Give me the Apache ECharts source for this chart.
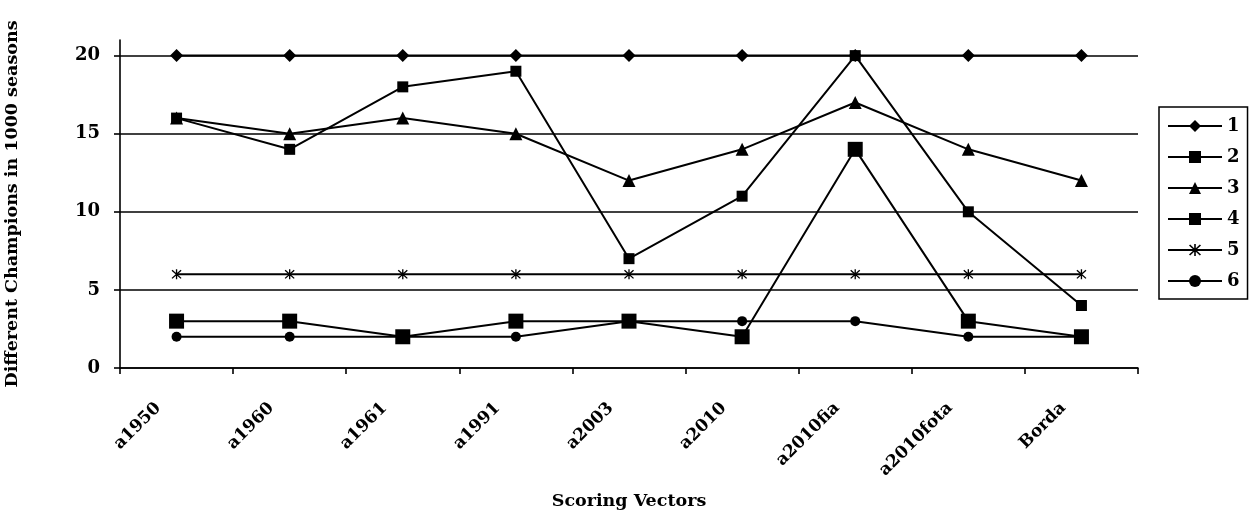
<!DOCTYPE html>
<html>
<head>
<meta charset="utf-8">
<script src="https://cdn.jsdelivr.net/npm/echarts@6/dist/echarts.min.js"></script>
<style>
html,body{margin:0;padding:0;background:#fff;}
#chart{width:1252px;height:513px;}
</style>
</head>
<body>
<div id="chart"></div>
<script>
const categories = ['a1950','a1960','a1961','a1991','a2003','a2010','a2010fia','a2010fota','Borda'];
const series1 = [20,20,20,20,20,20,20,20,20];
const series2 = [16,14,18,19,7,11,20,10,4];
const series3 = [16,15,16,15,12,14,17,14,12];
const series4 = [3,3,2,3,3,2,14,3,2];
const series5 = [6,6,6,6,6,6,6,6,6];
const series6 = [2,2,2,2,3,3,3,2,2];
const yTicks = [0,5,10,15,20];
const seriesNames = ['1','2','3','4','5','6'];

const FONT = 'DejaVu Serif';
const asterisk = 'path://M4.4 0L5.6 0L5.6 10L4.4 10Z M0.5 1.35L1.35 0.5L9.5 8.65L8.65 9.5Z M8.65 0.5L9.5 1.35L1.35 9.5L0.5 8.65Z';

function mk(name, data, symbol, size) {
  return {
    name: name, type: 'line', data: data,
    symbol: symbol, symbolSize: size, showAllSymbol: true,
    lineStyle: {color: '#000', width: 2},
    itemStyle: {color: '#000', borderWidth: 0},
    emphasis: {disabled: true},
    animation: false, z: 3
  };
}

const chart = echarts.init(document.getElementById('chart'));
chart.setOption({
  animation: false,
  backgroundColor: '#fff',
  grid: {left: 120, right: 114, top: 40, bottom: 145, containLabel: false, outerBoundsMode: 'none'},
  legend: {
    orient: 'vertical', left: 1159, top: 107,
    padding: [10, 8, 9, 8],
    itemWidth: 54, itemHeight: 15, itemGap: 13,
    borderColor: '#000', borderWidth: 1.5,
    textStyle: {fontFamily: FONT, fontWeight: 'bold', fontSize: 18, color: '#000'},
    data: seriesNames
  },
  xAxis: {
    type: 'category', data: categories, boundaryGap: true,
    name: 'Scoring Vectors', nameLocation: 'middle', nameGap: 124,
    nameTextStyle: {fontFamily: FONT, fontWeight: 'bold', fontSize: 17.5, color: '#000'},
    axisLine: {lineStyle: {color: '#000', width: 1.6}},
    axisTick: {show: true, inside: false, length: 6, lineStyle: {color: '#000', width: 1.6}},
    axisLabel: {rotate: 45, interval: 0, margin: 19, padding: [0, 26, 0, 0], fontFamily: FONT, fontWeight: 'bold', fontSize: 17, color: '#000'},
    splitLine: {show: false}
  },
  yAxis: {
    type: 'value', min: 0, max: 21, interval: 5,
    name: 'Different Champions in 1000 seasons', nameLocation: 'middle', nameGap: 99,
    nameTextStyle: {fontFamily: FONT, fontWeight: 'bold', fontSize: 17.5, color: '#000'},
    axisLine: {show: true, lineStyle: {color: '#000', width: 1.6}},
    axisTick: {show: true, inside: false, length: 6, customValues: yTicks, lineStyle: {color: '#000', width: 1.6}},
    axisLabel: {customValues: yTicks, margin: 20, fontFamily: FONT, fontWeight: 'bold', fontSize: 18, color: '#000'},
    splitLine: {show: true, lineStyle: {color: '#000', width: 1.6}}
  },
  series: [
    mk('1', series1, 'diamond', 13),
    mk('2', series2, 'rect', 11),
    mk('3', series3, 'triangle', 13),
    mk('4', series4, 'rect', 15),
    mk('5', series5, asterisk, 10),
    mk('6', series6, 'circle', 10)
  ]
});
</script>
</body>
</html>
